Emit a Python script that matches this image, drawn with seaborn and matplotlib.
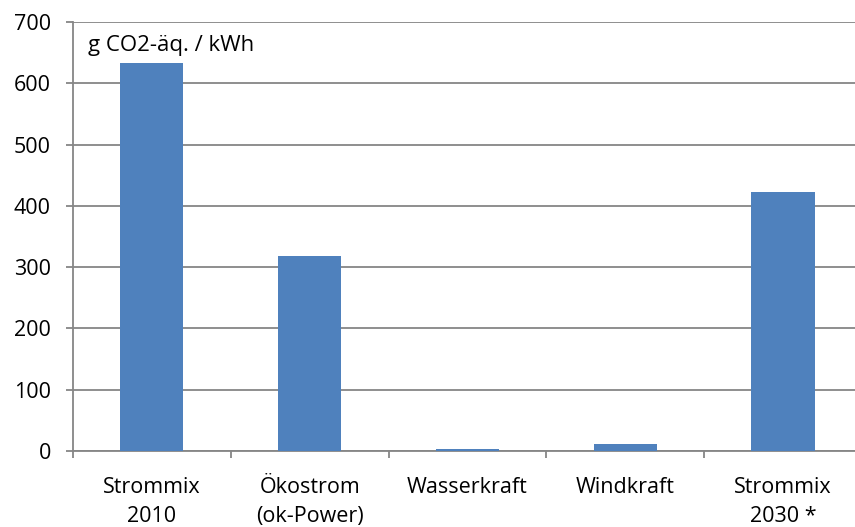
import matplotlib
matplotlib.use("Agg")
import matplotlib.pyplot as plt
import seaborn as sns
import pandas as pd
import numpy as np

categories = ["Strommix\n2010", "Ökostrom\n(ok-Power)", "Wasserkraft", "Windkraft", "Strommix\n2030 *"]
values = [633, 318, 4, 12, 422]
y_ticks = [0, 100, 200, 300, 400, 500, 600, 700]
unit_label = "g CO2-äq. / kWh"

sns.set_theme(style="white")
plt.rcParams["font.family"] = ["Open Sans", "DejaVu Sans"]

df = pd.DataFrame({"Kategorie": categories, "Wert": values})

W, H = 855, 527
fig = plt.figure(figsize=(W / 100, H / 100), dpi=100)
ax = fig.add_axes([73 / W, 1 - 451 / H, 1 - 73 / W + 0.008, (451 - 22) / H])

sns.barplot(data=df, x="Kategorie", y="Wert", color="#4F81BD", width=0.4,
            saturation=1, linewidth=0, edgecolor="none", ax=ax, zorder=3)

grid_col = "#868686"
fs = 15.5
ax.set_ylim(0, 700)
ax.set_xlim(-0.5, len(categories) - 0.5)
ax.set_yticks(y_ticks)
ax.yaxis.grid(True, color=grid_col, linewidth=1.3, zorder=0)
ax.set_xlabel("")
ax.set_ylabel("")

for side in ["top", "right"]:
    ax.spines[side].set_visible(False)
for side in ["left", "bottom"]:
    ax.spines[side].set_color(grid_col)
    ax.spines[side].set_linewidth(1.3)

ax.tick_params(axis="y", which="major", left=True, length=5, width=1.3,
               color=grid_col, labelsize=fs, labelcolor="black", pad=11)
ax.tick_params(axis="x", which="major", bottom=False, labelsize=fs,
               labelcolor="black", pad=13)
ax.set_xticks(np.arange(-0.5, len(categories), 1.0), minor=True)
ax.tick_params(axis="x", which="minor", bottom=True, length=5, width=1.3,
               color=grid_col)
for lbl in ax.get_xticklabels():
    lbl.set_linespacing(1.45)

ax.text(15 / (W * (1 - 73 / W + 0.008)), 0.945, unit_label, transform=ax.transAxes,
        fontsize=fs + 0.5, ha="left", va="center", color="black")

fig.savefig("out.png", dpi=100)
